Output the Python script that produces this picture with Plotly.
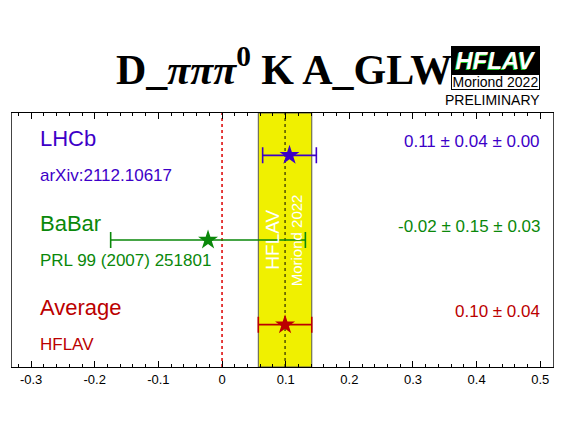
import numpy as np
import plotly.graph_objects as go

experiments = ["LHCb", "BaBar", "Average"]
references = ["arXiv:2112.10617", "PRL 99 (2007) 251801", "HFLAV"]
values = [0.106, -0.022, 0.099]
stat_err = [0.042, 0.150, 0.042]
syst_err = [0.004, 0.030, 0.0]
value_texts = ["0.11 \u00b1 0.04 \u00b1 0.00", "-0.02 \u00b1 0.15 \u00b1 0.03", "0.10 \u00b1 0.04"]
colors = ["#3d00c8", "#0a880a", "#bb0000"]
ypos = [3, 2, 1]

avg_value = 0.099
avg_err = 0.042

tick_values = [-0.3, -0.2, -0.1, 0.0, 0.1, 0.2, 0.3, 0.4, 0.5]
tick_labels = ["-0.3", "-0.2", "-0.1", "0", "0.1", "0.2", "0.3", "0.4", "0.5"]

SANS = "Liberation Sans, Arial, sans-serif"
SERIF = "Liberation Serif, Times New Roman, serif"

# page body adds an 8px offset; plot area should span x 12..553, y 113..367 on screen
def px(xpix):
    return (xpix - 12) / 541.0

def py(ypix):
    return (367 - ypix) / 254.0

fig = go.Figure()

for name, v, s, sy, c, y in zip(experiments, values, stat_err, syst_err, colors, ypos):
    tot = float(np.sqrt(s ** 2 + sy ** 2))
    fig.add_trace(go.Scatter(
        x=[v], y=[y], mode="markers", name=name,
        marker=dict(symbol="star", size=15, color=c, line=dict(width=0)),
        error_x=dict(type="data", array=[tot], symmetric=True, color=c,
                     thickness=1.6, width=8),
        showlegend=False, hoverinfo="skip",
    ))

shapes = [
    dict(type="rect", xref="x", yref="paper", x0=avg_value - avg_err, x1=avg_value + avg_err,
         y0=0, y1=1, fillcolor="#f0f000", line=dict(color="#555555", width=1), layer="below"),
    dict(type="line", xref="x", yref="paper", x0=avg_value, x1=avg_value, y0=0, y1=1,
         line=dict(color="black", width=1, dash="dot"), layer="below"),
    dict(type="line", xref="x", yref="paper", x0=0, x1=0, y0=0, y1=1,
         line=dict(color="#dd0000", width=1.5, dash="dot"), layer="below"),
]

annotations = []
for name, ref, vt, c, y in zip(experiments, references, value_texts, colors, ypos):
    annotations.append(dict(x=-0.289, y=y + 0.2, xref="x", yref="y", text=name, showarrow=False,
                            xanchor="left", yanchor="middle", font=dict(family=SANS, size=22, color=c)))
    annotations.append(dict(x=-0.289, y=y - 0.24, xref="x", yref="y", text=ref, showarrow=False,
                            xanchor="left", yanchor="middle", font=dict(family=SANS, size=17, color=c)))
    annotations.append(dict(x=0.503, y=y + 0.16, xref="x", yref="y", text=vt, showarrow=False,
                            xanchor="right", yanchor="middle", font=dict(family=SANS, size=17, color=c)))

# vertical texts in band
annotations.append(dict(x=0.078, y=2.0, xref="x", yref="y", text="HFLAV", textangle=-90, showarrow=False,
                        xanchor="center", yanchor="middle",
                        font=dict(family=SANS, size=19, color="white")))
annotations.append(dict(x=0.1176, y=1.995, xref="x", yref="y", text="Moriond 2022", textangle=-90,
                        showarrow=False, xanchor="center", yanchor="middle",
                        font=dict(family=SANS, size=15, color="white")))

# title
annotations.append(dict(x=px(284), y=py(66), xref="paper", yref="paper",
                        text="<b>D_<i>\u03c0\u03c0\u03c0</i><sup>0</sup> K A_GLW</b>", showarrow=False,
                        xanchor="center", yanchor="middle",
                        font=dict(family=SERIF, size=42, color="black")))

# logo
annotations.append(dict(x=px(495.5), y=py(60), xref="paper", yref="paper",
                        text="<b><i>HFLAV</i></b>", showarrow=False, xanchor="center", yanchor="middle",
                        bgcolor="black", width=89, height=28, borderpad=0, borderwidth=0,
                        font=dict(family=SANS, size=24, color="white", shadow="-1px 1px 0px #22cc22")))
annotations.append(dict(x=px(495.5), y=py(81.5), xref="paper", yref="paper", text="Moriond 2022",
                        showarrow=False, xanchor="center", yanchor="middle",
                        bgcolor="white", bordercolor="black", borderwidth=1, borderpad=0,
                        width=87, height=14, font=dict(family=SANS, size=14, color="black")))
annotations.append(dict(x=px(492.5), y=py(100), xref="paper", yref="paper",
                        text="PRELIMINARY", showarrow=False, xanchor="center", yanchor="middle",
                        font=dict(family=SANS, size=14, color="black")))

fig.update_layout(
    width=559, height=417,
    margin=dict(l=4, r=14, t=105, b=58),
    paper_bgcolor="white", plot_bgcolor="white",
    shapes=shapes, annotations=annotations,
    xaxis=dict(range=[-0.33, 0.52], tickvals=tick_values, ticktext=tick_labels,
               ticks="inside", ticklen=6, tickcolor="black", tickwidth=1,
               minor=dict(ticks="inside", ticklen=3, dtick=0.02, tickcolor="black"),
               showline=True, linecolor="black", linewidth=1, mirror="ticks",
               showgrid=False, zeroline=False,
               tickfont=dict(family=SANS, size=13, color="black")),
    yaxis=dict(range=[0.5, 3.5], showticklabels=False, ticks="", showline=True, linecolor="#444444",
               linewidth=1, mirror=True, showgrid=False, zeroline=False),
)

fig.write_html("out.html")
